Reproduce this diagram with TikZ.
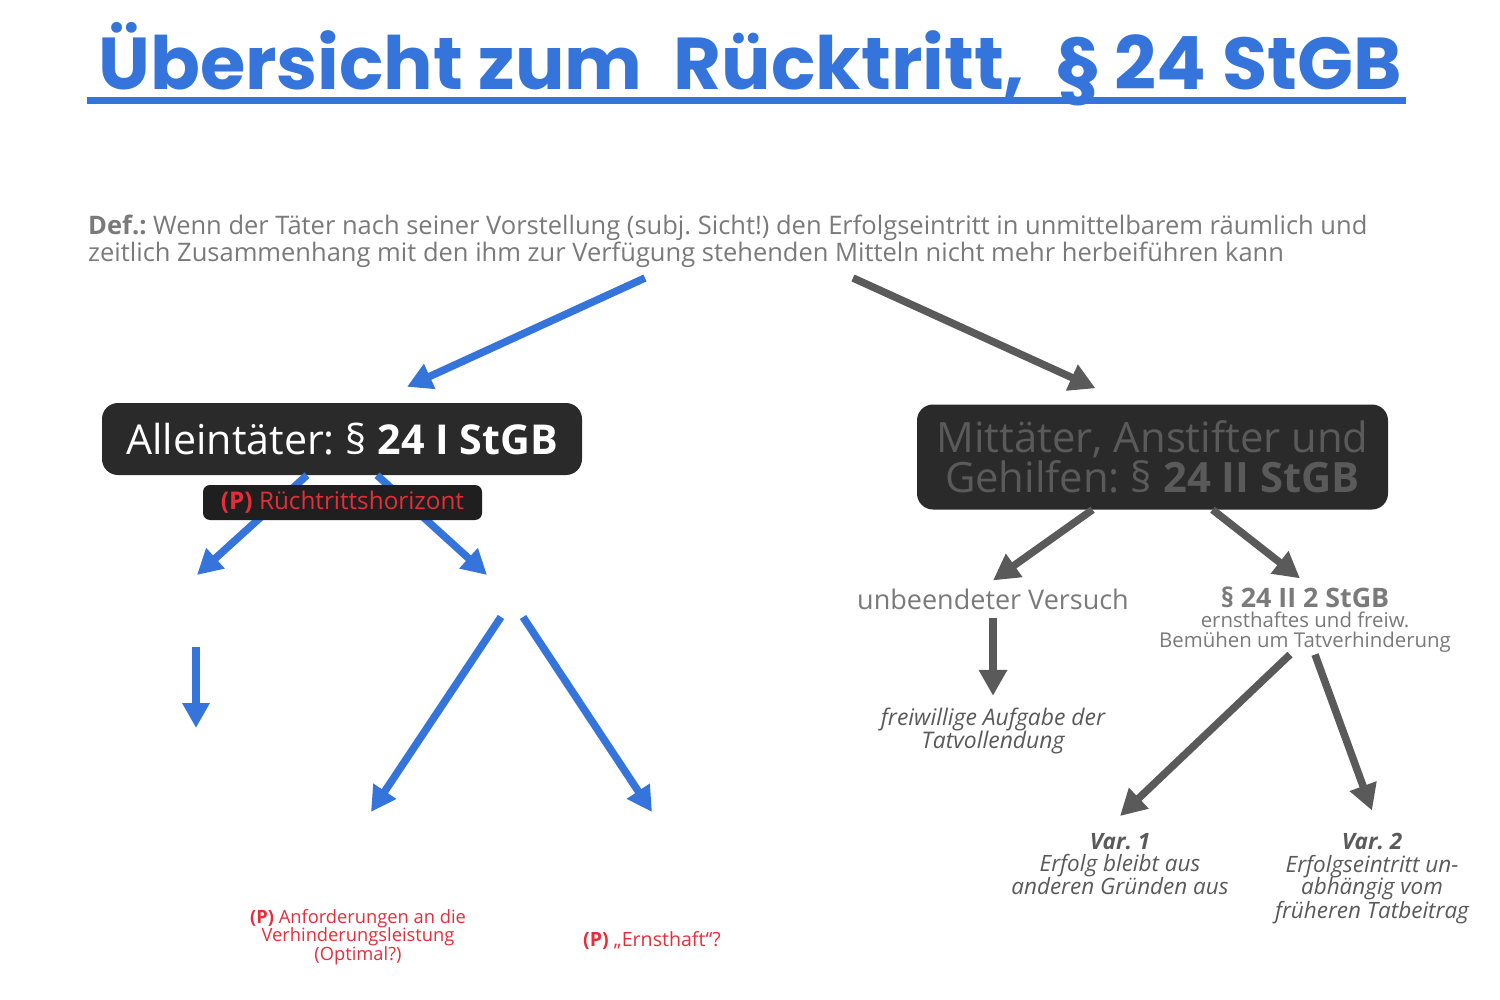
\documentclass[tikz,border=0pt]{standalone}
\usepackage{fontspec}
\setmainfont{Open Sans}
\newfontfamily\titlefont{Poppins}
\usetikzlibrary{arrows.meta,positioning}
\frenchspacing

\definecolor{titleblue}{RGB}{53,117,219}
\definecolor{defgray}{RGB}{122,122,122}
\definecolor{midgray}{RGB}{90,90,90}
\definecolor{boxdark}{RGB}{42,42,42}
\definecolor{problemred}{RGB}{232,45,58}

\tikzset{
  bluearrow/.style={draw=titleblue, line width=7.5pt, -{Triangle[width=26pt,length=25pt]}},
  grayarrow/.style={draw=midgray, line width=7.5pt, -{Triangle[width=27pt,length=26pt]}},
  darkbox/.style={fill=boxdark, rounded corners=16pt, inner sep=0pt, align=center},
  problembox/.style={fill=black!88, rounded corners=7pt, inner sep=0pt},
  plaintext/.style={inner sep=0pt, align=center},
}

\begin{document}
\begin{tikzpicture}[x=1pt, y=-1pt]
\useasboundingbox[fill=white] (0,0) rectangle (1500,1000);

% Titel
\node[plaintext, anchor=base, text=titleblue, font=\titlefont\bfseries\fontsize{73.5}{74}\selectfont] (title) at (750,90)
  {Übersicht zum\ \ Rücktritt,\ \ § 24 StGB};
\draw[titleblue, line width=7pt] (87,100.5) -- (1406,100.5);

% Definition
\node[plaintext, anchor=west, align=left, text=defgray, font=\fontsize{25.5}{25}\selectfont] (def) at (88,241)
  {\textbf{Def.:} Wenn der Täter nach seiner Vorstellung (subj. Sicht!) den Erfolgseintritt in unmittelbarem räumlich und\\
   zeitlich Zusammenhang mit den ihm zur Verfügung stehenden Mitteln nicht mehr herbeiführen kann};
\coordinate (defleft) at (645,278);
\coordinate (defright) at (853,278);

% Kästen
\node[darkbox, minimum width=480pt, minimum height=72pt, text=white, font=\fontsize{41.2}{41}\selectfont] (single) at (342,439)
  {Alleintäter: § \textbf{24 I StGB}};
\node[darkbox, minimum width=471pt, minimum height=105pt, text=midgray, font=\fontsize{41.8}{40}\selectfont] (joint) at (1152.5,457)
  {Mittäter, Anstifter und\\ Gehilfen: § \textbf{24 II StGB}};

\draw[bluearrow] (defleft) -- ([xshift=65pt,yshift=16pt]single.north);
\draw[grayarrow] (defright) -- ([xshift=-57pt,yshift=16pt]joint.north);

% linker Ast
\coordinate (leftend) at (197,575);
\coordinate (rightend) at (487,575);
\draw[bluearrow] ([xshift=-35pt]single.south) -- (leftend);
\draw[bluearrow] ([xshift=35pt]single.south) -- (rightend);

\node[problembox, minimum width=279pt, minimum height=35pt, text=problemred, font=\fontsize{24.3}{24}\selectfont] (horizon) at (342.5,502.5)
  {\textbf{(P)} Rüchtrittshorizont};

\coordinate (downstart) at (196,647);
\coordinate (downend) at (196,728);
\draw[bluearrow] (downstart) -- (downend);

\coordinate (forkleft) at (501,617);
\coordinate (forkright) at (523,617);
\coordinate (forkleftend) at (371,812);
\coordinate (forkrightend) at (652,812);
\draw[bluearrow] (forkleft) -- (forkleftend);
\draw[bluearrow] (forkright) -- (forkrightend);

\node[plaintext, text=problemred, font=\fontsize{18.3}{18.5}\selectfont] (optimal) at (358,937)
  {\textbf{(P)} Anforderungen an die\\ Verhinderungsleistung\\ (Optimal?)};
\node[plaintext, text=problemred, font=\fontsize{19.6}{19}\selectfont] (serious) at (652,941)
  {\textbf{(P)} „Ernsthaft“?};

% rechter Ast
\node[plaintext, text=defgray, font=\fontsize{27}{27}\selectfont] (attempt) at (993,599)
  {unbeendeter Versuch};
\node[plaintext, text=defgray, font=\bfseries\fontsize{26.8}{27}\selectfont] (para2) at (1305,597)
  {§ 24 II 2 StGB};
\node[plaintext, below=4pt of para2, text=defgray, font=\fontsize{20.4}{20}\selectfont] (effort)
  {ernsthaftes und freiw.\\ Bemühen um Tatverhinderung};

\draw[grayarrow] ([xshift=-60pt]joint.south) -- ([yshift=8pt]attempt.north);
\draw[grayarrow] ([xshift=60pt]joint.south) -- ([xshift=-5pt,yshift=8pt]para2.north);

\node[plaintext, text=midgray, font=\itshape\fontsize{22.9}{23}\selectfont] (abandon) at (993,731)
  {freiwillige Aufgabe der\\ Tatvollendung};
\draw[grayarrow] ([yshift=-8pt]attempt.south) -- ([yshift=12pt]abandon.north);

\node[plaintext, text=midgray, font=\itshape\fontsize{22.5}{22.6}\selectfont] (var1) at (1120,864)
  {\textbf{Var. 1}\\ Erfolg bleibt aus\\ anderen Gründen aus};
\node[plaintext, text=midgray, font=\itshape\fontsize{22.5}{22.6}\selectfont] (var2) at (1372,878.5)
  {\textbf{Var. 2}\\ Erfolgseintritt un-\\ abhängig vom\\ früheren Tatbeitrag};

\draw[grayarrow] ([xshift=-15pt,yshift=-2pt]effort.south) -- ([yshift=17pt]var1.north);
\draw[grayarrow] ([xshift=10pt,yshift=-2pt]effort.south) -- ([yshift=22.5pt]var2.north);
\end{tikzpicture}
\end{document}
